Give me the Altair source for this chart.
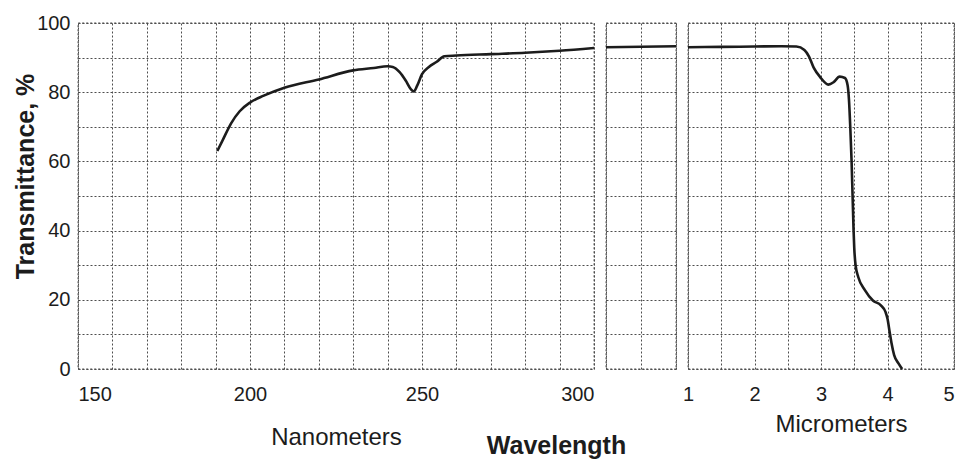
import altair as alt
import pandas as pd

# ---- data ----
# Panel 1: nanometers
nm = [190.5, 192, 194.5, 197, 200, 204, 210, 220, 230, 236, 240, 241.5, 243.5,
      245.3, 246.8, 247.6, 248.6, 250, 252, 254.3, 256.5, 260, 270, 280, 290, 300]
nm_T = [63, 66, 71, 74.5, 77, 79, 81.3, 83.7, 86.3, 87, 87.5, 87.3, 85.8,
        83.3, 80.8, 80.2, 81.9, 85.2, 87.3, 88.8, 90.4, 90.6, 91, 91.4, 92, 92.8]

# Panel 2: compressed gap segment (micrometers)
gap_um = [0.3, 1.0]
gap_T = [93.0, 93.3]

# Panel 3: micrometers
um = [1.0, 1.5, 2.0, 2.4, 2.63, 2.75, 2.82, 2.89, 2.99, 3.11, 3.19, 3.28, 3.36,
      3.40, 3.42, 3.44, 3.46, 3.475, 3.49, 3.50, 3.52, 3.56, 3.66, 3.78, 3.90,
      3.97, 4.0, 4.03, 4.06, 4.1, 4.17, 4.22]
um_T = [93.0, 93.1, 93.2, 93.3, 93.2, 92.2, 90.3, 87.1, 84.3, 82.2, 82.9, 84.5, 84.1,
        82.0, 78.0, 70.0, 60.0, 50.0, 40.0, 35.0, 30.0, 26.6, 22.8, 19.8, 18.4,
        16.5, 14.5, 11.0, 7.5, 4.0, 1.5, 0.0]

y_grid = list(range(0, 101, 10))
nm_grid = list(range(150, 301, 10))
gap_grid = [0.3, 0.65, 1.0]
um_grid = [1 + 0.5 * i for i in range(9)]

FONT = "Liberation Sans"
INK = "#1c1c1c"
GRID = "#4d4d4d"

yscale = alt.Scale(domain=[0, 100], nice=False, zero=False)

line_kw = dict(color=INK, strokeWidth=2.6, interpolate="monotone")

p1 = alt.Chart(pd.DataFrame({"x": nm, "T": nm_T})).mark_line(**line_kw).encode(
    x=alt.X("x:Q", scale=alt.Scale(domain=[150, 300], nice=False, zero=False),
            axis=alt.Axis(values=nm_grid,
                          labelExpr="datum.value % 50 == 0 ? datum.label : ''",
                          labelPadding=15, title="Nanometers", titleFontSize=24,
                          titleFontWeight="normal", titleX=258, titleY=68,
                          titleBaseline="middle")),
    y=alt.Y("T:Q", scale=yscale,
            axis=alt.Axis(values=y_grid,
                          labelExpr="datum.value % 20 == 0 ? datum.label : ''",
                          labelPadding=8, title="Transmittance, %", titleFontSize=25,
                          titleFontWeight="bold", titleX=-53, titleY=153,
                          titleBaseline="middle")),
).properties(width=516, height=346)

p2 = alt.Chart(pd.DataFrame({"x": gap_um, "T": gap_T})).mark_line(**line_kw).encode(
    x=alt.X("x:Q", scale=alt.Scale(domain=[0.3, 1.0], nice=False, zero=False),
            axis=alt.Axis(values=gap_grid, labels=False, title="Wavelength",
                          titleFontSize=25, titleFontWeight="bold", titleX=-50,
                          titleY=76, titleBaseline="middle")),
    y=alt.Y("T:Q", scale=yscale,
            axis=alt.Axis(values=y_grid, labels=False, title=None)),
).properties(width=70, height=346)

p3 = alt.Chart(pd.DataFrame({"x": um, "T": um_T})).mark_line(**line_kw).encode(
    x=alt.X("x:Q", scale=alt.Scale(domain=[1, 5], nice=False, zero=False),
            axis=alt.Axis(values=um_grid,
                          labelExpr="datum.value % 1 == 0 ? format(datum.value, 'd') : ''",
                          labelAlign={"expr": "datum.value >= 5 ? 'right' : 'center'"},
                          labelPadding=15, title="Micrometers", titleFontSize=24,
                          titleFontWeight="normal", titleX=153, titleY=55,
                          titleBaseline="middle")),
    y=alt.Y("T:Q", scale=yscale,
            axis=alt.Axis(values=y_grid, labels=False, title=None)),
).properties(width=266, height=346)

chart = alt.hconcat(p1, p2, p3, spacing=12, bounds="flush").properties(
    padding={"left": 4, "top": 4, "right": 0, "bottom": 0},
    background="white",
).configure_view(
    stroke=GRID, strokeDash=[2, 2], strokeWidth=1.3
).configure_axis(
    labelFont=FONT, titleFont=FONT, labelColor=INK, titleColor=INK,
    labelFontSize=20, domain=False, ticks=False,
    gridColor=GRID, gridDash=[2, 2], gridOpacity=1, gridWidth=1,
)

chart.save("out.html", embed_options={"renderer": "svg", "actions": False})
